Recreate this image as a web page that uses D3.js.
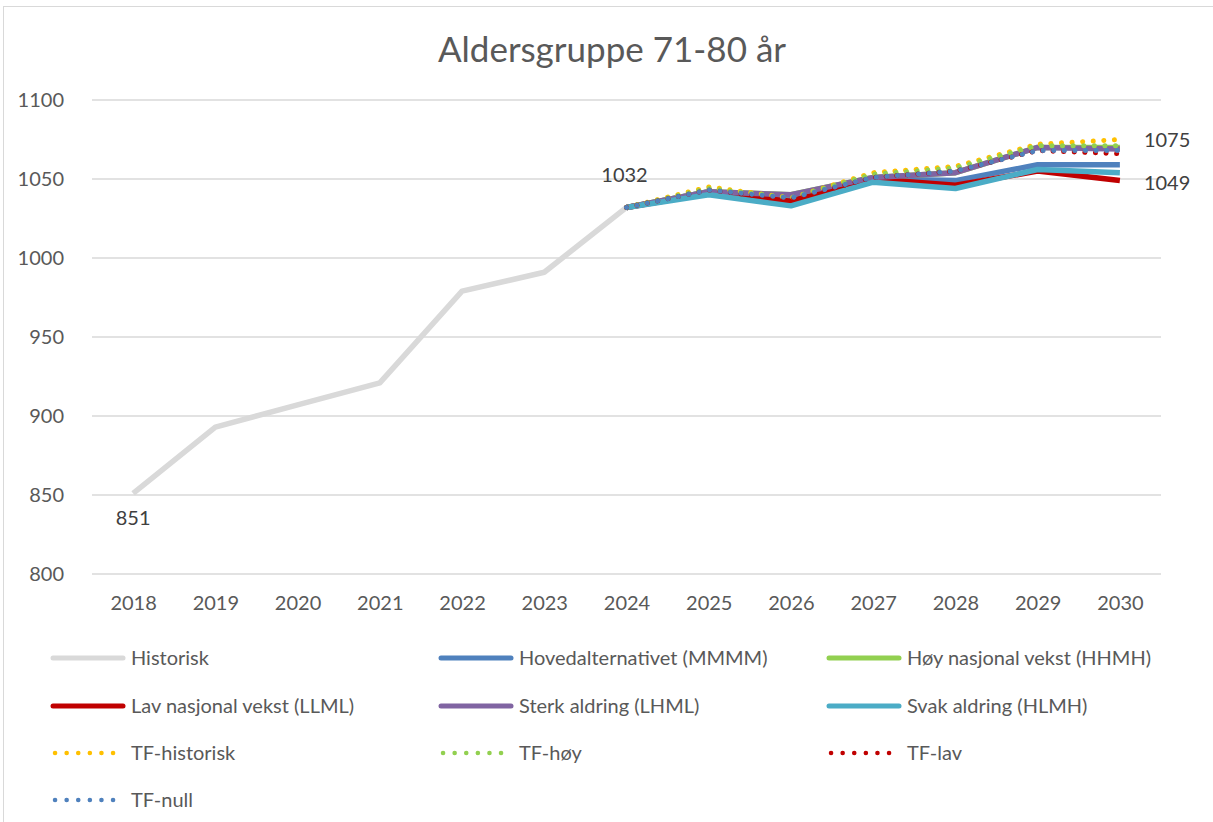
<!DOCTYPE html>
<html>
<head>
<meta charset="utf-8">
<script src="https://cdn.jsdelivr.net/npm/d3@7"></script>
<style>
  body { margin: 0; background: #fff; }
  text { font-family: Lato, "Open Sans", sans-serif; }
</style>
</head>
<body>
<div id="chart1"></div>
<script>
// years on the x axis
let years = [2018, 2019, 2020, 2021, 2022, 2023, 2024, 2025, 2026, 2027, 2028, 2029, 2030];
let projYears = [2024, 2025, 2026, 2027, 2028, 2029, 2030];

// series values
let historisk = [851, 893, 907, 921, 979, 991, 1032];
let hoved = [1032, 1042, 1037, 1050, 1049, 1059, 1059];
let hoy = [1032, 1042, 1040, 1051, 1054, 1070, 1070];
let lav = [1032, 1041, 1036, 1050, 1046, 1055, 1049];
let sterk = [1032, 1042, 1040, 1051, 1054, 1070, 1069];
let svak = [1032, 1040, 1033, 1048, 1044, 1056, 1054];
let tfHistorisk = [1032, 1045, 1038, 1054, 1058, 1072, 1075];
let tfHoy = [1032, 1044, 1038, 1053, 1057, 1071, 1071];
let tfLav = [1032, 1043, 1037, 1051, 1055, 1068, 1066];
let tfNull = [1032, 1043, 1038, 1051, 1055, 1068, 1068];

let yTicks = [800, 850, 900, 950, 1000, 1050, 1100];

let series = [
    { name: "Historisk", x: years.slice(0, 7), v: historisk, color: "#D9D9D9", dot: false },
    { name: "Hovedalternativet (MMMM)", x: projYears, v: hoved, color: "#4F81BD", dot: false },
    { name: "Høy nasjonal vekst (HHMH)", x: projYears, v: hoy, color: "#92D050", dot: false },
    { name: "Lav nasjonal vekst (LLML)", x: projYears, v: lav, color: "#C00000", dot: false },
    { name: "Sterk aldring (LHML)", x: projYears, v: sterk, color: "#8064A2", dot: false },
    { name: "Svak aldring (HLMH)", x: projYears, v: svak, color: "#4BACC6", dot: false },
    { name: "TF-historisk", x: projYears, v: tfHistorisk, color: "#FFC000", dot: true },
    { name: "TF-høy", x: projYears, v: tfHoy, color: "#92D050", dot: true },
    { name: "TF-lav", x: projYears, v: tfLav, color: "#C00000", dot: true },
    { name: "TF-null", x: projYears, v: tfNull, color: "#4F81BD", dot: true }
];

let width = 1213;
let height = 822;
let plotLeft = 92, plotRight = 1161, plotTop = 100, plotBottom = 574;

let svg = d3.select("#chart1")
    .append("svg")
    .attr("width", width)
    .attr("height", height);

// chart frame
svg.append("rect")
    .attr("x", 3.5).attr("y", 6.5)
    .attr("width", width + 10).attr("height", height + 10)
    .attr("fill", "none")
    .attr("stroke", "#D9D9D9");

let x = d3.scalePoint()
    .domain(years)
    .range([plotLeft, plotRight])
    .padding(0.5);

let y = d3.scaleLinear()
    .domain([800, 1100])
    .range([plotBottom, plotTop]);

// gridlines
svg.append("g")
    .selectAll("line")
    .data(yTicks)
    .enter().append("line")
    .attr("x1", plotLeft).attr("x2", plotRight)
    .attr("y1", (d) => y(d)).attr("y2", (d) => y(d))
    .attr("stroke", "#D9D9D9")
    .attr("stroke-width", 1.3);

// y axis labels
let yAxis = svg.append("g")
    .attr("transform", "translate(" + (plotLeft - 28) + ",0)")
    .call(d3.axisLeft(y).tickValues(yTicks).tickSize(0).tickPadding(0).tickFormat(d3.format("d")));
yAxis.select(".domain").remove();
yAxis.selectAll("text")
    .attr("fill", "#595959")
    .style("font-size", "20px")
    .style("font-family", "Lato, 'Open Sans', sans-serif");

// x axis labels
let xAxis = svg.append("g")
    .attr("transform", "translate(0," + (plotBottom + 22) + ")")
    .call(d3.axisBottom(x).tickSize(0).tickPadding(0).tickFormat(d3.format("d")));
xAxis.select(".domain").remove();
xAxis.selectAll("text")
    .attr("fill", "#595959")
    .style("font-size", "20px")
    .style("font-family", "Lato, 'Open Sans', sans-serif");

// title
svg.append("text")
    .attr("x", 612)
    .attr("y", 62)
    .attr("text-anchor", "middle")
    .attr("fill", "#595959")
    .style("font-size", "35px")
    .text("Aldersgruppe 71-80 år");

let line = d3.line()
    .x((d) => x(d[0]))
    .y((d) => y(d[1]));

// lines
series.forEach(function (s) {
    let pts = s.x.map((yr, i) => [yr, s.v[i]]);
    svg.append("path")
        .datum(pts)
        .attr("d", line)
        .attr("fill", "none")
        .attr("stroke", s.color)
        .attr("stroke-width", s.dot ? 5 : 5.5)
        .attr("stroke-linecap", s.dot ? "round" : "butt")
        .attr("stroke-linejoin", "round")
        .attr("stroke-dasharray", s.dot ? "0.1,10.5" : null);
});

// data labels
let labels = [
    { yr: 2018, v: historisk[0], dx: 0, dy: 32, anchor: "middle" },
    { yr: 2024, v: historisk[6], dx: -2, dy: -25, anchor: "middle" },
    { yr: 2030, v: tfHistorisk[6], dx: 24, dy: 7, anchor: "start" },
    { yr: 2030, v: lav[6], dx: 24, dy: 9, anchor: "start" }
];
svg.append("g")
    .selectAll("text")
    .data(labels)
    .enter().append("text")
    .attr("x", (d) => x(d.yr) + d.dx)
    .attr("y", (d) => y(d.v) + d.dy)
    .attr("text-anchor", (d) => d.anchor)
    .attr("fill", "#404040")
    .style("font-size", "20px")
    .text((d) => d.v);

// legend, 3 columns
let colX = [53, 441, 829];
let rowY = [658, 706, 753, 800];
let legend = svg.append("g")
    .selectAll("g")
    .data(series)
    .enter().append("g")
    .attr("transform", (d, i) => "translate(" + colX[i % 3] + "," + rowY[Math.floor(i / 3)] + ")");

legend.append("line")
    .attr("x1", (d) => d.dot ? 2 : 0)
    .attr("x2", (d) => d.dot ? 62 : 70)
    .attr("y1", 0).attr("y2", 0)
    .attr("stroke", (d) => d.color)
    .attr("stroke-width", (d) => d.dot ? 4.5 : 5)
    .attr("stroke-linecap", "round")
    .attr("stroke-dasharray", (d) => d.dot ? "0.1,11.5" : null);

legend.append("text")
    .attr("x", 78)
    .attr("y", 7)
    .attr("fill", "#595959")
    .style("font-size", "20px")
    .text((d) => d.name);
</script>
</body>
</html>
